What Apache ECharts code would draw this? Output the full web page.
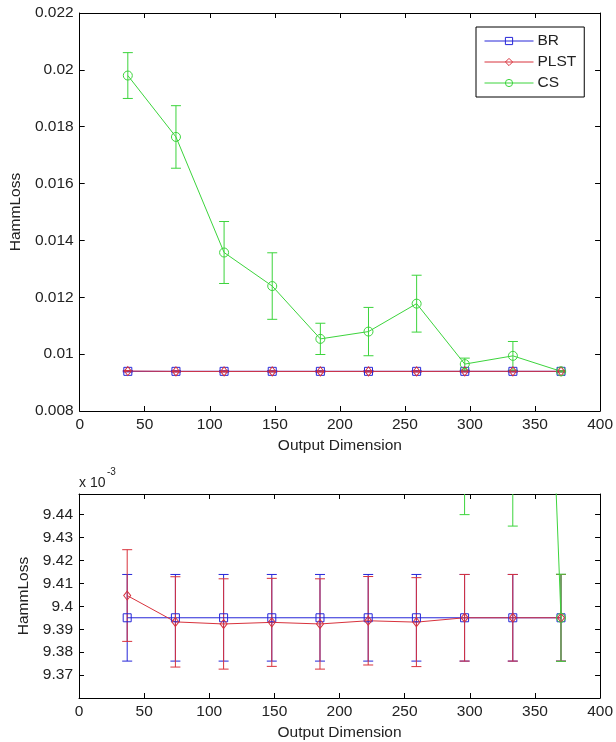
<!DOCTYPE html>
<html>
<head>
<meta charset="utf-8">
<script src="https://cdn.jsdelivr.net/npm/echarts@6/dist/echarts.min.js"></script>
<style>
  html, body { margin: 0; padding: 0; background: #fff; }
  #chart { width: 616px; height: 742px; }
</style>
</head>
<body>
<div id="chart"></div>
<script>
// output dimension (x)
const dims = [37, 74, 111, 148, 185, 222, 259, 296, 333, 370];

// HammLoss means and error half-widths
const brLoss = [0.009395, 0.009395, 0.009395, 0.009395, 0.009395, 0.009395, 0.009395, 0.009395, 0.009395, 0.009395];
const brErr = [0.0000189, 0.0000189, 0.0000189, 0.0000189, 0.0000189, 0.0000189, 0.0000189, 0.0000189, 0.0000189, 0.0000189];
const plstLoss = [0.0094047, 0.0093932, 0.0093923, 0.009393, 0.0093923, 0.0093937, 0.0093931, 0.009395, 0.009395, 0.009395];
const plstErr = [0.00002, 0.0000197, 0.0000197, 0.0000192, 0.0000197, 0.0000193, 0.0000194, 0.0000189, 0.0000189, 0.0000189];
const csLoss = [0.01980, 0.01764, 0.013575, 0.012395, 0.010537, 0.010794, 0.011776, 0.00965, 0.00994, 0.009395];
const csErr = [0.000806, 0.00110, 0.00109, 0.00117, 0.00055, 0.00085, 0.00100, 0.00021, 0.000505, 0.000019];

const xTicks = { min: 0, max: 400, interval: 50 };
const topY = { min: 0.008, max: 0.022, interval: 0.002 };
const zoomY = { min: 9.36, max: 9.449, interval: 0.01 }; // x 10^-3

const BLUE = '#2626d8';
const RED = '#d8323c';
const GREEN = '#3cd43c';
const FONT = 'Liberation Sans, Arial, sans-serif';
const FS = 15.5;

const chart = echarts.init(document.getElementById('chart'), null, { renderer: 'canvas' });

function pairs(vals, scale) {
  return dims.map((x, i) => [x, vals[i] * scale]);
}
function triples(vals, errs, scale) {
  return dims.map((x, i) => [x, vals[i] * scale, errs[i] * scale]);
}

function errorBarItem(params, api) {
  const x = api.value(0), y = api.value(1), e = api.value(2);
  const hi = api.coord([x, y + e]);
  const lo = api.coord([x, y - e]);
  const w = 5;
  const style = { stroke: api.visual('color'), lineWidth: 1, fill: null };
  return {
    type: 'group',
    children: [
      { type: 'line', shape: { x1: hi[0], y1: hi[1], x2: lo[0], y2: lo[1] }, style },
      { type: 'line', shape: { x1: hi[0] - w, y1: hi[1], x2: hi[0] + w, y2: hi[1] }, style },
      { type: 'line', shape: { x1: lo[0] - w, y1: lo[1], x2: lo[0] + w, y2: lo[1] }, style }
    ]
  };
}

const axisLine = { show: true, onZero: false, lineStyle: { color: '#000', width: 1 } };
const axisTick = { show: true, inside: true, length: 5, lineStyle: { color: '#000' } };
const labelStyle = { color: '#222', fontSize: FS, fontFamily: FONT };

function xAxes(gridIndex) {
  return [
    Object.assign({
      type: 'value', gridIndex, position: 'bottom',
      axisLine, axisTick, splitLine: { show: false },
      axisLabel: Object.assign({ margin: 6 }, labelStyle),
      name: 'Output Dimension', nameLocation: 'middle', nameGap: 27,
      nameTextStyle: labelStyle
    }, xTicks),
    Object.assign({
      type: 'value', gridIndex, position: 'top',
      axisLine, axisTick, splitLine: { show: false }, axisLabel: { show: false }
    }, xTicks)
  ];
}

function yAxes(gridIndex, range, formatter, nameGap) {
  return [
    Object.assign({
      type: 'value', gridIndex, position: 'left',
      axisLine, axisTick, splitLine: { show: false },
      axisLabel: Object.assign({ margin: 6, formatter }, labelStyle),
      name: 'HammLoss', nameLocation: 'middle', nameGap,
      nameTextStyle: labelStyle
    }, range),
    Object.assign({
      type: 'value', gridIndex, position: 'right',
      axisLine, axisTick, splitLine: { show: false }, axisLabel: { show: false }
    }, range)
  ];
}

const topFmt = v => parseFloat(v.toFixed(3)).toString();
const zoomFmt = v => (v < 9.365 || v > 9.445) ? '' : parseFloat(v.toFixed(2)).toString();

const methods = [
  { name: 'BR', vals: brLoss, errs: brErr, color: BLUE, symbol: 'rect', size: 8 },
  { name: 'PLST', vals: plstLoss, errs: plstErr, color: RED, symbol: 'diamond', size: [7, 9] },
  { name: 'CS', vals: csLoss, errs: csErr, color: GREEN, symbol: 'circle', size: 9 }
];

const series = [];
[[0, 1], [2, 1000]].forEach(([axisIdx, scale]) => {
  methods.forEach(m => {
    series.push({
      type: 'custom',
      xAxisIndex: axisIdx, yAxisIndex: axisIdx,
      renderItem: errorBarItem,
      itemStyle: { color: m.color },
      encode: { x: 0, y: 1 },
      clip: true,
      silent: true,
      data: triples(m.vals, m.errs, scale)
    });
    series.push({
      type: 'line',
      name: m.name,
      xAxisIndex: axisIdx, yAxisIndex: axisIdx,
      symbol: m.symbol, symbolSize: m.size,
      showSymbol: true,
      clip: true,
      lineStyle: { color: m.color, width: 1 },
      itemStyle: { color: 'rgba(0,0,0,0)', borderColor: m.color, borderWidth: 1 },
      emphasis: { disabled: true },
      data: pairs(m.vals, scale)
    });
  });
});

chart.setOption({
  animation: false,
  backgroundColor: '#fff',
  grid: [
    { left: 79, right: 13, top: 13, height: 398 },
    { left: 79, right: 13, top: 494, height: 209 }
  ],
  xAxis: xAxes(0).concat(xAxes(1)),
  yAxis: yAxes(0, topY, topFmt, 51).concat(yAxes(1, zoomY, zoomFmt, 43)),
  legend: {
    left: 476, top: 27,
    orient: 'vertical',
    padding: [6, 8, 6, 8],
    itemGap: 5,
    itemWidth: 49, itemHeight: 9,
    backgroundColor: '#fff',
    borderColor: '#000', borderWidth: 1, borderRadius: 0,
    textStyle: { color: '#222', fontSize: FS, fontFamily: FONT, padding: [0, 0, 0, -1] },
    selectedMode: false,
    data: methods.map(m => ({
      name: m.name,
      itemStyle: { color: 'rgba(0,0,0,0)', borderColor: m.color, borderWidth: 1 },
      lineStyle: { color: m.color, width: 1 }
    }))
  },
  graphic: [
    { type: 'text', left: 79, top: 476, style: { text: 'x 10', fontSize: 14, fontFamily: FONT, fill: '#222' } },
    { type: 'text', left: 107, top: 467, style: { text: '-3', fontSize: 10, fontFamily: FONT, fill: '#222' } }
  ],
  series
});
</script>
</body>
</html>
